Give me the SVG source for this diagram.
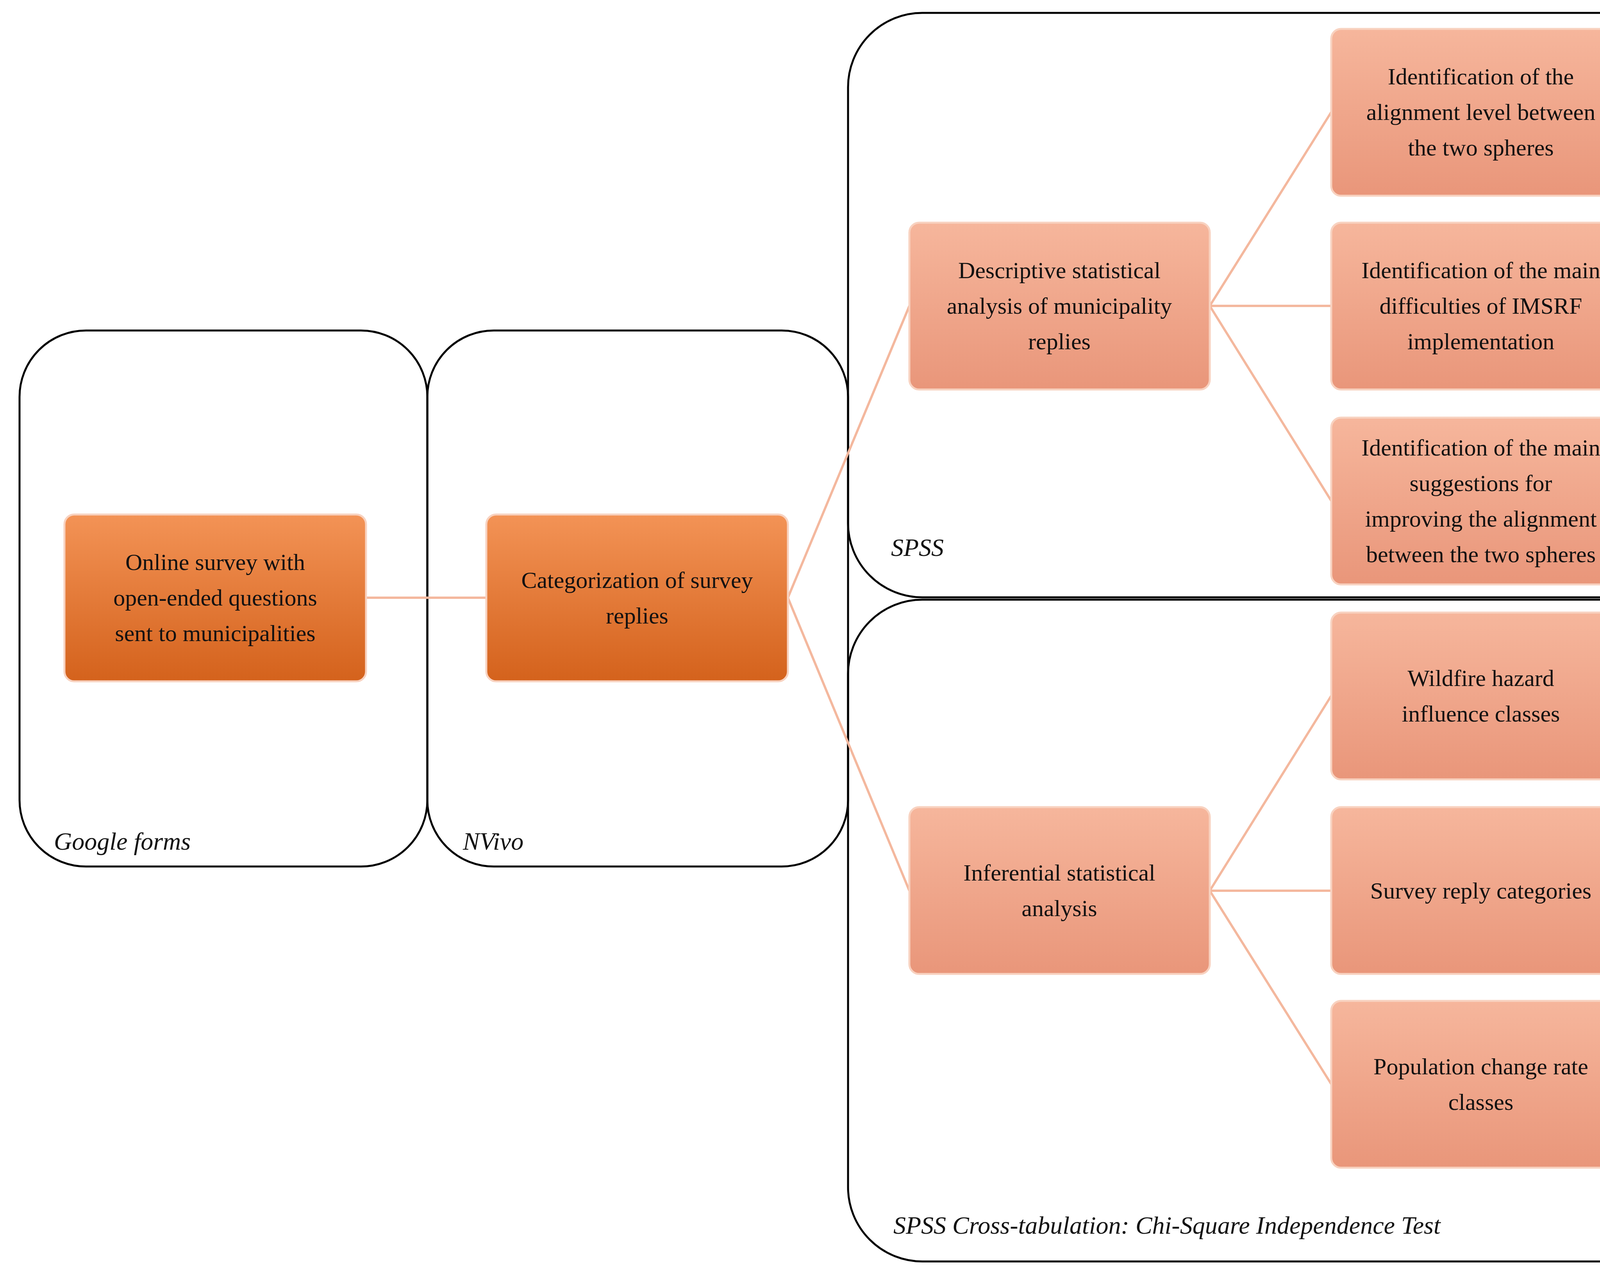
<svg xmlns="http://www.w3.org/2000/svg" width="4320" height="3256" viewBox="0 0 4320 3256">
<defs>
<linearGradient id="gd" x1="0" y1="0" x2="0" y2="1"><stop offset="0" stop-color="#f39356"/><stop offset="1" stop-color="#d4621c"/></linearGradient>
<linearGradient id="gl" x1="0" y1="0" x2="0" y2="1"><stop offset="0" stop-color="#f6b69c"/><stop offset="1" stop-color="#e9967a"/></linearGradient>
<style>
.c{fill:none;stroke:#000;stroke-width:5}
.n{stroke:#f8d2c0;stroke-width:5}
.t{font-family:"Liberation Serif",serif;font-size:60px;fill:#111;text-anchor:middle;dominant-baseline:central}
.l{font-family:"Liberation Serif",serif;font-size:64px;font-style:italic;fill:#111}
.e{stroke:#f4b89e;stroke-width:6;fill:none}
</style>
</defs>
<g id="containers">
<rect class="c" x="50" y="846" width="1044" height="1372" rx="170"/>
<rect class="c" x="1094" y="846" width="1077" height="1372" rx="170"/>
<rect class="c" x="2171" y="33" width="2127" height="1496" rx="190"/>
<rect class="c" x="2171" y="1535" width="2127" height="1694" rx="190"/>
<text class="l" x="138" y="2175">Google forms</text>
<text class="l" x="1185" y="2175">NVivo</text>
<text class="l" x="2281" y="1423">SPSS</text>
<text class="l" x="2287" y="3158">SPSS Cross-tabulation: Chi-Square Independence Test</text>
</g>
<g id="connectors">
<line class="e" x1="937" y1="1530" x2="1245" y2="1530"/>
<line class="e" x1="2017" y1="1530" x2="2328" y2="783"/>
<line class="e" x1="2017" y1="1530" x2="2328" y2="2280"/>
<line class="e" x1="3097" y1="783" x2="3408" y2="287"/>
<line class="e" x1="3097" y1="783" x2="3408" y2="783"/>
<line class="e" x1="3097" y1="783" x2="3408" y2="1282"/>
<line class="e" x1="3097" y1="2280" x2="3408" y2="1781"/>
<line class="e" x1="3097" y1="2280" x2="3408" y2="2280"/>
<line class="e" x1="3097" y1="2280" x2="3408" y2="2775"/>
</g>
<g id="n1"><rect class="n" x="165" y="1317" width="772" height="427" rx="25" fill="url(#gd)"/>
<text class="t" x="551" y="1439">Online survey with</text><text class="t" x="551" y="1530">open-ended questions</text><text class="t" x="551" y="1621">sent to municipalities</text></g>
<g id="n2"><rect class="n" x="1245" y="1317" width="772" height="427" rx="25" fill="url(#gd)"/>
<text class="t" x="1631" y="1485">Categorization of survey</text><text class="t" x="1631" y="1576">replies</text></g>
<g id="n3"><rect class="n" x="2328" y="570" width="769" height="427" rx="25" fill="url(#gl)"/>
<text class="t" x="2712" y="692">Descriptive statistical</text><text class="t" x="2712" y="783">analysis of municipality</text><text class="t" x="2712" y="874">replies</text></g>
<g id="n4"><rect class="n" x="2328" y="2066" width="769" height="427" rx="25" fill="url(#gl)"/>
<text class="t" x="2712" y="2234">Inferential statistical</text><text class="t" x="2712" y="2325">analysis</text></g>
<g id="n5"><rect class="n" x="3408" y="74" width="766" height="427" rx="25" fill="url(#gl)"/>
<text class="t" x="3791" y="196">Identification of the</text><text class="t" x="3791" y="287">alignment level between</text><text class="t" x="3791" y="378">the two spheres</text></g>
<g id="n6"><rect class="n" x="3408" y="570" width="766" height="427" rx="25" fill="url(#gl)"/>
<text class="t" x="3791" y="692">Identification of the main</text><text class="t" x="3791" y="783">difficulties of IMSRF</text><text class="t" x="3791" y="874">implementation</text></g>
<g id="n7"><rect class="n" x="3408" y="1069" width="766" height="427" rx="25" fill="url(#gl)"/>
<text class="t" x="3791" y="1146">Identification of the main</text><text class="t" x="3791" y="1237">suggestions for</text><text class="t" x="3791" y="1328">improving the alignment</text><text class="t" x="3791" y="1419">between the two spheres</text></g>
<g id="n8"><rect class="n" x="3408" y="1568" width="766" height="427" rx="25" fill="url(#gl)"/>
<text class="t" x="3791" y="1736">Wildfire hazard</text><text class="t" x="3791" y="1827">influence classes</text></g>
<g id="n9"><rect class="n" x="3408" y="2066" width="766" height="427" rx="25" fill="url(#gl)"/>
<text class="t" x="3791" y="2280">Survey reply categories</text></g>
<g id="n10"><rect class="n" x="3408" y="2562" width="766" height="427" rx="25" fill="url(#gl)"/>
<text class="t" x="3791" y="2730">Population change rate</text><text class="t" x="3791" y="2821">classes</text></g>
</svg>
